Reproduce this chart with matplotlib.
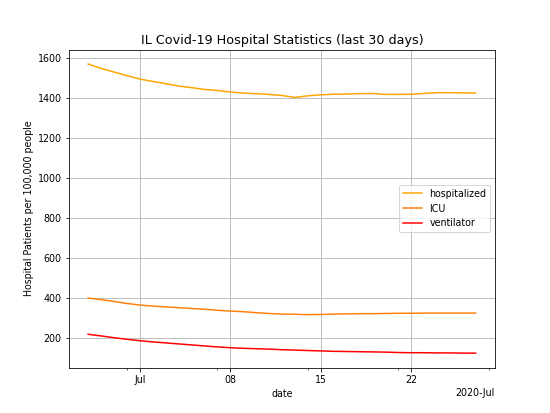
import matplotlib
matplotlib.use("Agg")
import matplotlib.pyplot as plt
import matplotlib.dates as mdates
import pandas as pd

plt.rcParams["font.size"] = 9.5

dates = pd.date_range("2020-06-27", "2020-07-27", freq="D")

hospitalized = [1570, 1548, 1530, 1512, 1495, 1483, 1472, 1460, 1452, 1443, 1438,
                1430, 1425, 1422, 1418, 1413, 1403, 1411, 1416, 1419, 1420, 1422,
                1423, 1418, 1418, 1419, 1423, 1427, 1427, 1426, 1425]
icu = [401, 393, 384, 374, 366, 361, 357, 353, 349, 345, 340,
       336, 333, 328, 324, 321, 320, 318, 319, 321, 322, 323,
       323, 324, 325, 325, 326, 326, 326, 326, 326]
ventilator = [220, 212, 203, 195, 188, 182, 177, 172, 167, 162, 157,
              153, 150, 148, 146, 143, 141, 139, 137, 135, 134, 133,
              132, 131, 129, 128, 128, 127, 127, 126, 126]

fig, ax = plt.subplots(figsize=(550 / 72, 413 / 72), dpi=72)
ax.plot(dates, hospitalized, color="orange", label="hospitalized")
ax.plot(dates, icu, color="tab:orange", label="ICU")
ax.plot(dates, ventilator, color="red", label="ventilator")

locator = mdates.DayLocator(bymonthday=[1, 8, 15, 22])
ax.xaxis.set_major_locator(locator)
ax.xaxis.set_major_formatter(mdates.ConciseDateFormatter(locator))
ax.xaxis.set_minor_locator(mdates.WeekdayLocator(byweekday=mdates.TU))

ax.grid(True, which="major")
ax.set_title("IL Covid-19 Hospital Statistics (last 30 days)", fontsize=12.7)
ax.set_xlabel("date")
ax.set_ylabel("Hospital Patients per 100,000 people")
ax.legend(loc="center right")

fig.savefig("out.png")
